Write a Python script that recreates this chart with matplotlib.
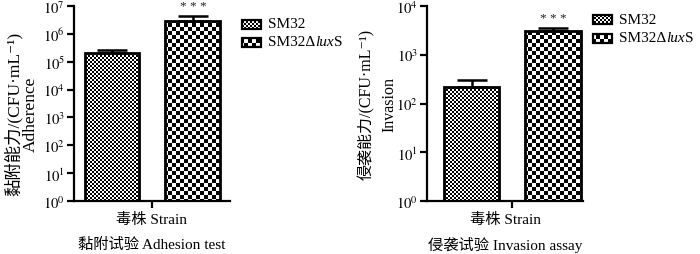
import numpy as np
import matplotlib
matplotlib.use("Agg")
import matplotlib.pyplot as plt
from matplotlib.patches import Rectangle

plt.rcParams['font.family'] = ['Liberation Serif', 'Noto Sans CJK SC', 'DejaVu Serif']
plt.rcParams['mathtext.fontset'] = 'stix'

# ---- data ----
strains = [["SM32"], ["SM32Δ", "lux", "S"]]
adhesion_mean = [2.0e5, 2.8e6]
adhesion_err_top = [2.7e5, 4.3e6]
invasion_mean = [214, 2990]
invasion_err_top = [309, 3450]
adh_ticks = [1, 10, 100, 1e3, 1e4, 1e5, 1e6, 1e7]
adh_ticklabels = [r"$10^{%d}$" % i for i in range(8)]
inv_ticks = [1, 10, 100, 1e3, 1e4]
inv_ticklabels = [r"$10^{%d}$" % i for i in range(5)]
sig = "* * *"

W, H = 700, 255
fig = plt.figure(figsize=(7, 2.55), dpi=100)
renderer = fig.canvas.get_renderer()

def checker(s):
    yy, xx = np.mgrid[0:H, 0:W]
    return ((yy // s + xx // s) % 2).astype(float)

fine = checker(2)
coarse = checker(4)

def clip_img(arr, patch):
    im = fig.figimage(arr, xo=0, yo=0, cmap='gray', vmin=0, vmax=1, zorder=-1)
    im.set_clip_path(patch)

def panel(rect, means, tops, ticks, ticklabels, ylim, xlim, ylabel, lab_xy,
          lab_ls, lab_fs, title, star_y):
    ax = fig.add_axes(rect)
    ax.patch.set_visible(False)
    ax.set_yscale('log')
    ax.set_ylim(*ylim)
    ax.set_xlim(*xlim)
    x = np.arange(len(means))
    errs = np.array(tops) - np.array(means)
    heights = np.array(means) - ylim[0]
    bars = ax.bar(x, heights, width=0.68, bottom=ylim[0], facecolor='none',
                  edgecolor='black', linewidth=2.0, zorder=3)
    ax.errorbar(x, means, yerr=[np.zeros_like(errs), errs], fmt='none',
                ecolor='black', elinewidth=1.8, capsize=11, capthick=1.8, zorder=2)
    for b, arr in zip(bars, [fine, coarse]):
        clip_img(arr, b)
    ax.text(x[1], star_y, sig, ha='center', va='center', fontsize=9.5,
            color='#222222')
    ax.set_yticks(ticks)
    ax.set_yticklabels(ticklabels, fontsize=10.5)
    ax.minorticks_off()
    ax.set_xticks([0.5])
    ax.set_xticklabels([''])
    for s in ['top', 'right']:
        ax.spines[s].set_visible(False)
    for s in ['left', 'bottom']:
        ax.spines[s].set_linewidth(1.6)
    ax.tick_params(axis='both', length=5, width=1.6, pad=1.5, direction='out')
    fig.text(lab_xy[0] / W, 1 - lab_xy[1] / H, ylabel, rotation=90,
             ha='center', va='center', multialignment='center',
             fontsize=lab_fs, linespacing=lab_ls)
    ax.text(0.5, -0.09, "毒株 Strain", transform=ax.transAxes, ha='center',
            va='center', fontsize=11)
    ax.text(0.5, -0.22, title, transform=ax.transAxes, ha='center',
            va='center', fontsize=11)
    return ax

ax1 = panel([74 / W, (H - 202.3) / H, 156 / W, 195.6 / H],
            adhesion_mean, adhesion_err_top, adh_ticks, adh_ticklabels,
            (1, 1e7), (-0.47, 1.46),
            "黏附能力/(CFU·mL⁻¹)\nAdherence", (21.5, 114), 1.02, 12.5,
            "黏附试验 Adhesion test", 1.0e7)
ax2 = panel([427 / W, (H - 202.3) / H, 156 / W, 195.6 / H],
            invasion_mean, invasion_err_top, inv_ticks, inv_ticklabels,
            (1, 1e4), (-0.55, 1.37),
            "侵袭能力/(CFU·mL⁻¹)\nInvasion", (378, 104), 1.55, 11.5,
            "侵袭试验 Invasion assay", 5600)

# legends (drawn in figure pixel coordinates)
def legend(x0, ys):
    for yc, arr, parts in zip(ys, [fine, coarse], strains):
        r = Rectangle((x0, H - yc - 4.5), 19, 9, transform=None,
                      facecolor='none', edgecolor='black', linewidth=1.6)
        fig.add_artist(r)
        clip_img(arr, r)
        xp = x0 + 26
        for i, p in enumerate(parts):
            style = 'italic' if p == 'lux' else 'normal'
            t = fig.text(xp / W, (H - yc) / H, p, ha='left', va='center',
                         fontsize=11, style=style)
            xp = t.get_window_extent(renderer).x1

legend(242, [25, 43])
legend(593, [20.5, 39])

fig.savefig("out.png", dpi=100)
